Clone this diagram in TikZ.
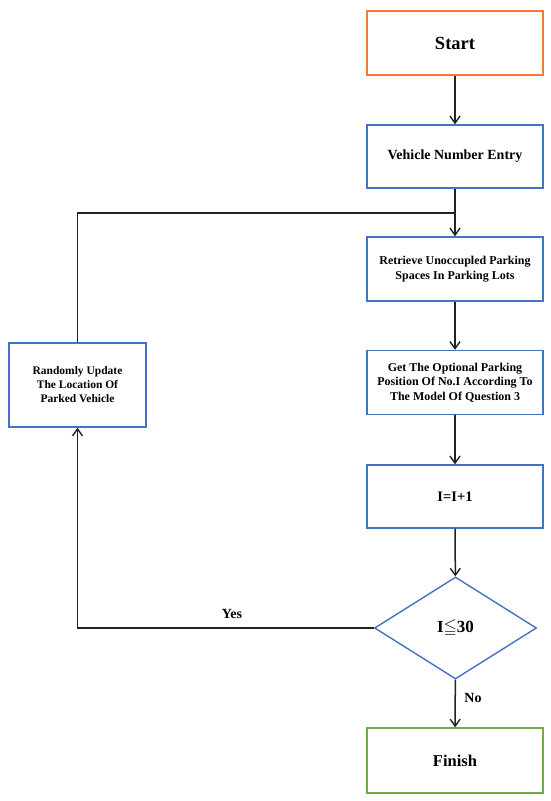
\documentclass[tikz,border=0pt]{standalone}
\usepackage{amssymb}
\usepackage{fontspec}
\setmainfont{Liberation Serif}
\usetikzlibrary{shapes.geometric,arrows.meta}
\definecolor{orng}{HTML}{ED7D31}
\definecolor{blu}{HTML}{4472C4}
\definecolor{grn}{HTML}{70AD47}
\definecolor{ink}{HTML}{222222}
\tikzset{
  box/.style={draw=blu, line width=1.4pt, rectangle, minimum width=176pt, minimum height=64pt, inner sep=2pt, align=center, font=\bfseries\fontsize{12}{14.5}\selectfont},
  flow/.style={draw=ink, line width=1.5pt, -{Straight Barb[length=7pt,width=10pt,line width=1.4pt]}},
  line/.style={draw=ink, line width=1.5pt},
  lbl/.style={font=\bfseries\fontsize{14}{16}\selectfont, inner sep=0pt}
}
\begin{document}
\begin{tikzpicture}[x=1pt,y=-1pt]
\useasboundingbox[fill=white] (0,0) rectangle (550,801);
\node[box, draw=orng, font=\bfseries\fontsize{18.5}{20}\selectfont] (start) at (455,43) {Start};
\node[box, minimum height=63pt, font=\bfseries\fontsize{14}{16}\selectfont] (vne) at (455,156.5) {Vehicle Number Entry};
\node[box] (ret) at (455,269) {Retrieve Unoccupled Parking\\Spaces In Parking Lots};
\node[box] (get) at (455,382.5) {Get The Optional Parking\\Position Of No.I According To\\The Model Of Question 3};
\node[box, minimum height=63pt, font=\bfseries\fontsize{14.5}{16}\selectfont] (inc) at (455,496.5) {I=I+1};
\node[draw=blu, line width=1.4pt, diamond, minimum width=162pt, minimum height=102pt, inner sep=0pt, font=\bfseries\fontsize{17}{18}\selectfont] (dia) at (455.5,628) {I$\leqq$30};
\node[box, draw=grn, minimum height=65pt, font=\bfseries\fontsize{16.5}{18}\selectfont] (fin) at (455,760.5) {Finish};
\node[box, minimum width=137pt, minimum height=84pt, font=\bfseries\fontsize{11.5}{14}\selectfont] (rand) at (77.5,385) {Randomly Update\\The Location Of\\Parked Vehicle};
\coordinate (join) at (455,213);
\draw[flow] (start) -- (vne);
\draw[flow] (vne) -- (ret);
\draw[flow] (ret) -- (get);
\draw[flow] (get) -- (inc);
\draw[flow] (inc) -- (dia);
\draw[flow] (dia) -- (fin);
\draw[flow] (dia.west) -| (rand.south);
\draw[line] (rand.north) |- (join);
\node[lbl] (yes) at (232,614) {Yes};
\node[lbl] (no) at (473,698) {No};
\end{tikzpicture}
\end{document}
